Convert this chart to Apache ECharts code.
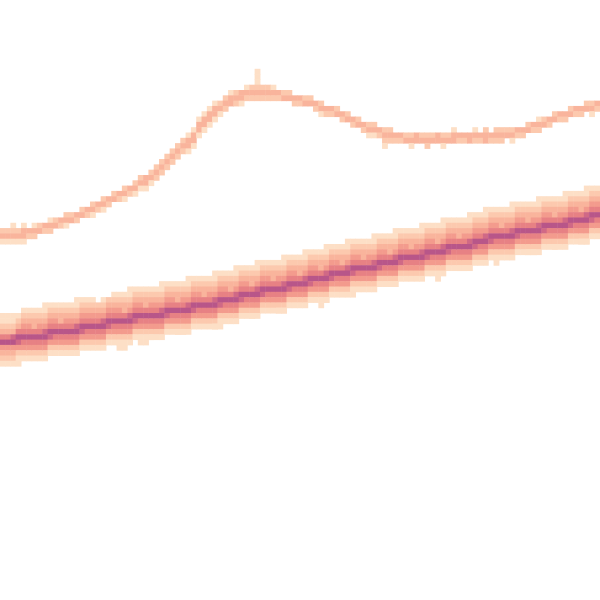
<!DOCTYPE html>
<html>
<head>
<meta charset="utf-8">
<script src="https://cdn.jsdelivr.net/npm/echarts@6/dist/echarts.min.js"></script>
<style>html,body{margin:0;padding:0;background:#fff}#c{width:600px;height:600px}</style>
</head>
<body>
<div id="c"></div>
<script>
// grid of cells (columns x rows), rows counted from top
const nCols = 113;
const nRows = 113;
const colLabels = Array.from({length: nCols}, (_, i) => String(i));
const rowLabels = Array.from({length: nRows}, (_, i) => String(i));

// density levels 1..7
const levelColors = ['#fddfc6', '#fcc9ae', '#f9b49c', '#f39b8d', '#e78184', '#d06986', '#b85689'];

// upper thin line: [column, top row, levels downward]
const upperLine = [
[0,43,"231"],[1,43,"231"],[2,42,"1231"],[3,43,"231"],[4,42,"1331"],[5,43,"32"],[6,42,"132"],[7,42,"23"],
[8,42,"32"],[9,41,"132"],[10,41,"23"],[11,41,"32"],[12,40,"231"],[13,40,"23"],[14,40,"32"],[15,39,"23"],
[16,39,"32"],[17,38,"231"],[18,38,"32"],[19,37,"231"],[20,37,"32"],[21,36,"23"],[22,36,"32"],[23,35,"231"],
[24,35,"32"],[25,34,"231"],[26,33,"231"],[27,33,"331"],[28,32,"231"],[29,31,"232"],[30,30,"232"],[31,29,"232"],
[32,28,"232"],[33,27,"232"],[34,26,"232"],[35,25,"1331"],[36,24,"1331"],[37,22,"1331"],[38,21,"1331"],[39,20,"1331"],
[40,19,"1331"],[41,19,"231"],[42,18,"232"],[43,17,"133"],[44,17,"232"],[45,17,"331"],[46,16,"132"],[47,16,"232"],
[48,13,"111232"],[49,16,"232"],[50,16,"232"],[51,16,"132"],[52,17,"32"],[53,17,"23"],[54,17,"23"],[55,18,"32"],
[56,18,"32"],[57,18,"23"],[58,18,"23"],[59,19,"32"],[60,19,"231"],[61,20,"32"],[62,20,"32"],[63,20,"23"],
[64,21,"32"],[65,21,"23"],[66,22,"32"],[67,22,"23"],[68,23,"32"],[69,23,"231"],[70,23,"231"],[71,24,"32"],
[72,24,"2321"],[73,24,"232"],[74,25,"32"],[75,25,"32"],[76,25,"23"],[77,25,"231"],[78,25,"33"],[79,25,"23"],
[80,25,"232"],[81,25,"23"],[82,25,"33"],[83,25,"231"],[84,25,"23"],[85,24,"133"],[86,25,"32"],[87,25,"32"],
[88,25,"33"],[89,24,"132"],[90,25,"32"],[91,24,"233"],[92,25,"32"],[93,24,"232"],[94,24,"232"],[95,24,"23"],
[96,24,"231"],[97,24,"32"],[98,24,"32"],[99,23,"23"],[100,23,"32"],[101,22,"132"],[102,22,"23"],[103,22,"32"],
[104,21,"23"],[105,21,"32"],[106,21,"32"],[107,20,"23"],[108,20,"32"],[109,20,"32"],[110,19,"23"],[111,19,"231"],
[112,19,"32"]
];

// lower dense band: [column, top row, levels downward]
const lowerBand = [
[0,59,"1123574321"],[1,59,"1123574321"],[2,59,"1123674321"],[3,59,"1235764211"],[4,58,"1234575421"],
[5,58,"1234575421"],[6,58,"1233575421"],[7,58,"1234575421"],[8,57,"11234675421"],[9,57,"1234576421"],
[10,57,"1234575421"],[11,57,"1233575421"],[12,57,"1234575421"],[13,57,"1234575421"],[14,56,"11234675421"],
[15,56,"1234576421"],[16,56,"1234575421"],[17,56,"1234575421"],[18,57,"234575421"],[19,56,"1234675421"],
[20,56,"234576421"],[21,55,"1234575421"],[22,55,"1234575421"],[23,55,"1233575421"],[24,54,"11234675421"],
[25,54,"1234576421"],[26,54,"1234575421"],[27,54,"1233575421"],[28,54,"1234575421"],[29,54,"1234575421"],
[30,53,"11234675421"],[31,53,"1234576421"],[32,53,"1234575421"],[33,53,"1233575421"],[34,53,"1234575421"],
[35,52,"11234675421"],[36,52,"1234576421"],[37,52,"1234575421"],[38,52,"1233575421"],[39,52,"1234575421"],
[40,51,"11234675421"],[41,51,"1234576421"],[42,51,"1234575421"],[43,51,"1233575421"],[44,50,"11234675421"],
[45,50,"1234576421"],[46,50,"1234575421"],[47,50,"1233575421"],[48,49,"11234675421"],[49,49,"1234576421"],
[50,49,"1234575421"],[51,49,"1233575421"],[52,49,"1234575421"],[53,48,"11234675421"],[54,48,"1234576421"],
[55,48,"1234575421"],[56,48,"1233575421"],[57,47,"11234675421"],[58,47,"1234576421"],[59,47,"1234575421"],
[60,47,"1233575421"],[61,46,"11234675421"],[62,46,"1234576421"],[63,46,"1234575421"],[64,46,"1233575421"],
[65,45,"11234675421"],[66,45,"1234576421"],[67,45,"1234575421"],[68,45,"1233575421"],[69,45,"1234575421"],
[70,44,"11234675421"],[71,44,"1234576421"],[72,44,"1234575421"],[73,44,"1233575421"],[74,43,"11234675421"],
[75,43,"1234576421"],[76,43,"1234575421"],[77,43,"1233575421"],[78,43,"1234575421"],[79,42,"11234675421"],
[80,42,"1234576421"],[81,42,"1234575421"],[82,42,"1233575421"],[83,41,"11234675421"],[84,41,"1234576421"],
[85,41,"1234575421"],[86,41,"1233575421"],[87,41,"1234575421"],[88,40,"11234675421"],[89,40,"1234576421"],
[90,40,"1234575421"],[91,39,"11234675421"],[92,39,"1234576421"],[93,39,"1234575421"],[94,39,"1233575421"],
[95,39,"1234575421"],[96,38,"11234675421"],[97,38,"1234576421"],[98,38,"1234575421"],[99,38,"1233575421"],
[100,38,"1234575421"],[101,37,"11234675421"],[102,37,"1234576421"],[103,37,"1234575421"],[104,37,"1233575421"],
[105,37,"1234575421"],[106,36,"11234675421"],[107,36,"1234576421"],[108,36,"1234575421"],[109,36,"1233575421"],
[110,35,"11234675421"],[111,35,"1234576421"],[112,35,"1234575421"]
];

// scattered faint cells just outside the lower band
const strayCells = [
[22,65,1],[23,65,1],[26,64,1],[27,64,1],[28,63,1],[33,62,1],[34,62,1],[40,61,1],[41,61,1],
[47,59,1],[52,58,1],[53,58,1],[60,57,1],[61,56,1],[66,55,1],[73,53,1],[74,53,1],[82,52,1],
[86,50,1],[87,50,1],[93,49,1],[99,47,1],[100,47,1],[104,46,1],[109,45,1],[110,45,1]
];

function toCells(list) {
  const out = [];
  list.forEach(([c, top, s]) => {
    for (let k = 0; k < s.length; k++) {
      const v = Number(s[k]);
      if (v > 0) out.push([c, top + k, v]);
    }
  });
  return out;
}
const cells = toCells(upperLine).concat(toCells(lowerBand), strayCells);

const cell = 16 / 3;
const chart = echarts.init(document.getElementById('c'), null, {renderer: 'canvas'});
chart.setOption({
  animation: false,
  backgroundColor: '#ffffff',
  grid: {left: 0, top: 0, width: nCols * cell, height: nRows * cell},
  xAxis: {type: 'category', data: colLabels, show: false},
  yAxis: {type: 'category', data: rowLabels, inverse: true, show: false},
  visualMap: {
    type: 'piecewise', show: false, dimension: 2,
    pieces: levelColors.map((col, i) => ({value: i + 1, color: col}))
  },
  series: [{
    type: 'heatmap',
    data: cells,
    itemStyle: {borderWidth: 0},
    emphasis: {disabled: true}
  }]
});
</script>
</body>
</html>
